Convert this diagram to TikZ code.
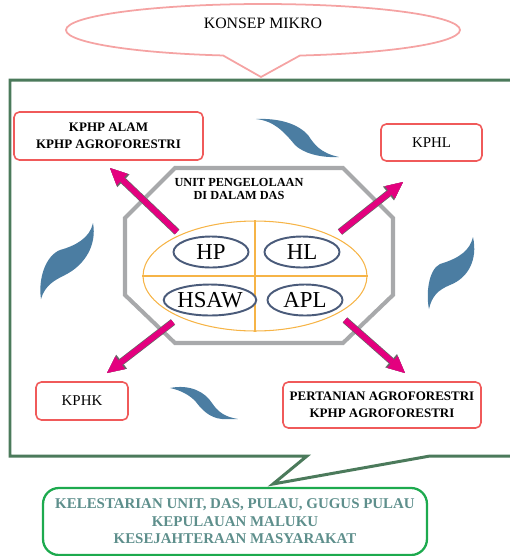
\documentclass[tikz,border=0pt]{standalone}
\usepackage{fontspec}
\setmainfont{Liberation Serif}
\usetikzlibrary{shapes.geometric,arrows.meta}

\definecolor{boxred}{HTML}{F05A5A}
\definecolor{calloutpink}{HTML}{F5A3A3}
\definecolor{framegreen}{HTML}{4B7A5B}
\definecolor{goalgreen}{HTML}{1DAA4E}
\definecolor{goaltext}{HTML}{5E8F8C}
\definecolor{octgray}{HTML}{A8A9AB}
\definecolor{dasorange}{HTML}{F6B447}
\definecolor{zoneblue}{HTML}{4A5B7A}
\definecolor{swooshblue}{HTML}{4B7DA2}
\definecolor{arrowpink}{HTML}{E4007F}

\begin{document}
\begin{tikzpicture}[x=0.02cm,y=-0.02cm,
    kph/.style    = {draw=boxred,line width=0.9pt,rounded corners=3pt,fill=white,align=center,inner sep=0pt},
    kphbold/.style  = {kph,font=\fontsize{7.4}{9.6}\selectfont\bfseries},
    kphplain/.style = {kph,font=\fontsize{8.5}{10}\selectfont},
    zone/.style   = {ellipse,draw=zoneblue,line width=1.1pt,fill=white,inner sep=0pt,
                     minimum width=1.5cm,minimum height=0.62cm,font=\fontsize{13}{14}\selectfont},
    swoosh/.style = {fill=swooshblue},
    pointer/.style= {line width=3.2pt,arrowpink,
                     -{Triangle[length=9.5pt,width=9pt,line width=0.1pt]},
                     preaction={draw=black!60,line width=4pt,
                                -{Triangle[length=10.5pt,width=10pt,line width=0.1pt]}}},
  ]
  \clip (0,0) rectangle (510,556);

  % callout frames
  \draw[calloutpink,line width=1pt,fill=white] (223.05,55.46)
    arc[start angle=101.7,end angle=439.2,x radius=197,y radius=26] -- (261,77) -- cycle;
  \node[font=\fontsize{9}{10}\selectfont] (konsep) at (263,23) {KONSEP MIKRO};

  \draw[framegreen,line width=1.7pt] (307,456) -- (10,456) -- (10,80) -- (520,80)
    -- (520,456) -- (430,456) -- (273,484) -- cycle;

  % swooshes
  \fill[swoosh] (256,119) .. controls (280,118) and (298,124) .. (308,135)
    .. controls (314,144) and (320,153) .. (339,157)
    .. controls (320,158) and (303,153) .. (295,145)
    .. controls (285,133) and (275,121) .. (256,119) -- cycle;
  \fill[swoosh] (93,223) .. controls (90,238) and (75,246) .. (60,250)
    .. controls (45,256) and (38,280) .. (41,299)
    .. controls (45,285) and (55,280) .. (65,275)
    .. controls (85,265) and (97,245) .. (93,223) -- cycle;
  \fill[swoosh] (473,237) .. controls (470,250) and (460,258) .. (440,264)
    .. controls (428,270) and (426,295) .. (429,309)
    .. controls (432,296) and (438,290) .. (450,285)
    .. controls (468,278) and (478,260) .. (473,237) -- cycle;
  \fill[swoosh] (170,388) .. controls (190,384) and (205,392) .. (212,403)
    .. controls (218,412) and (225,417) .. (238,419) -- (222,419)
    .. controls (210,418) and (202,410) .. (196,402)
    .. controls (190,395) and (180,390) .. (170,388) -- cycle;

  % unit pengelolaan
  \draw[octgray,line width=2.3pt] (175,168) -- (343,168) -- (393,218) -- (393,295)
    -- (343,343) -- (175,343) -- (125,295) -- (125,218) -- cycle;
  \node[align=center,font=\fontsize{7}{7.6}\selectfont\bfseries] (unit) at (239,189)
    {UNIT PENGELOLAAN\\DI DALAM DAS};

  \node[ellipse,draw=dasorange,line width=0.6pt,minimum width=4.48cm,minimum height=2.2cm] (das) at (255,276) {};
  \draw[dasorange,line width=0.6pt] (das.north) -- (das.south) (das.west) -- (das.east);

  \node[zone] (hp)   at (211,252) {HP};
  \node[zone] (hl)   at (302,252) {HL};
  \node[zone] (hsaw) at (210,300) {HSAW};
  \node[zone] (apl)  at (305,300) {APL};

  % kph boxes
  \node[kphbold,minimum width=3.78cm,minimum height=0.96cm] (kphp) at (108.5,136)
    {KPHP ALAM\\KPHP AGROFORESTRI};
  \node[kphplain,minimum width=2.02cm,minimum height=0.74cm] (kphl) at (431.5,142.5) {KPHL};
  \node[kphplain,minimum width=1.84cm,minimum height=0.76cm] (kphk) at (82,401) {KPHK};
  \node[kphbold,minimum width=3.96cm,minimum height=0.92cm] (tani) at (382,405)
    {PERTANIAN AGROFORESTRI\\KPHP AGROFORESTRI};

  % arrows out of the unit
  \coordinate (hpout)   at (177,232);
  \coordinate (hlout)   at (340,232);
  \coordinate (hsawout) at (173,322);
  \coordinate (aplout)  at (345,320);
  \coordinate (kphpin)  at (110,168);
  \coordinate (kphlin)  at (403,182);
  \coordinate (kphkin)  at (107,373);
  \coordinate (taniin)  at (405,373);
  \draw[pointer] (hpout) -- (kphpin);
  \draw[pointer] (hlout) -- (kphlin);
  \draw[pointer] (hsawout) -- (kphkin);
  \draw[pointer] (aplout) -- (taniin);

  % goal
  \node[draw=goalgreen,line width=1.3pt,rounded corners=9pt,minimum width=7.68cm,minimum height=1.34cm,
        align=center,text=goaltext,font=\fontsize{8.5}{10}\selectfont\bfseries] (lestari) at (235,521.5)
    {KELESTARIAN UNIT, DAS, PULAU, GUGUS PULAU\\KEPULAUAN MALUKU\\KESEJAHTERAAN MASYARAKAT};
\end{tikzpicture}
\end{document}
